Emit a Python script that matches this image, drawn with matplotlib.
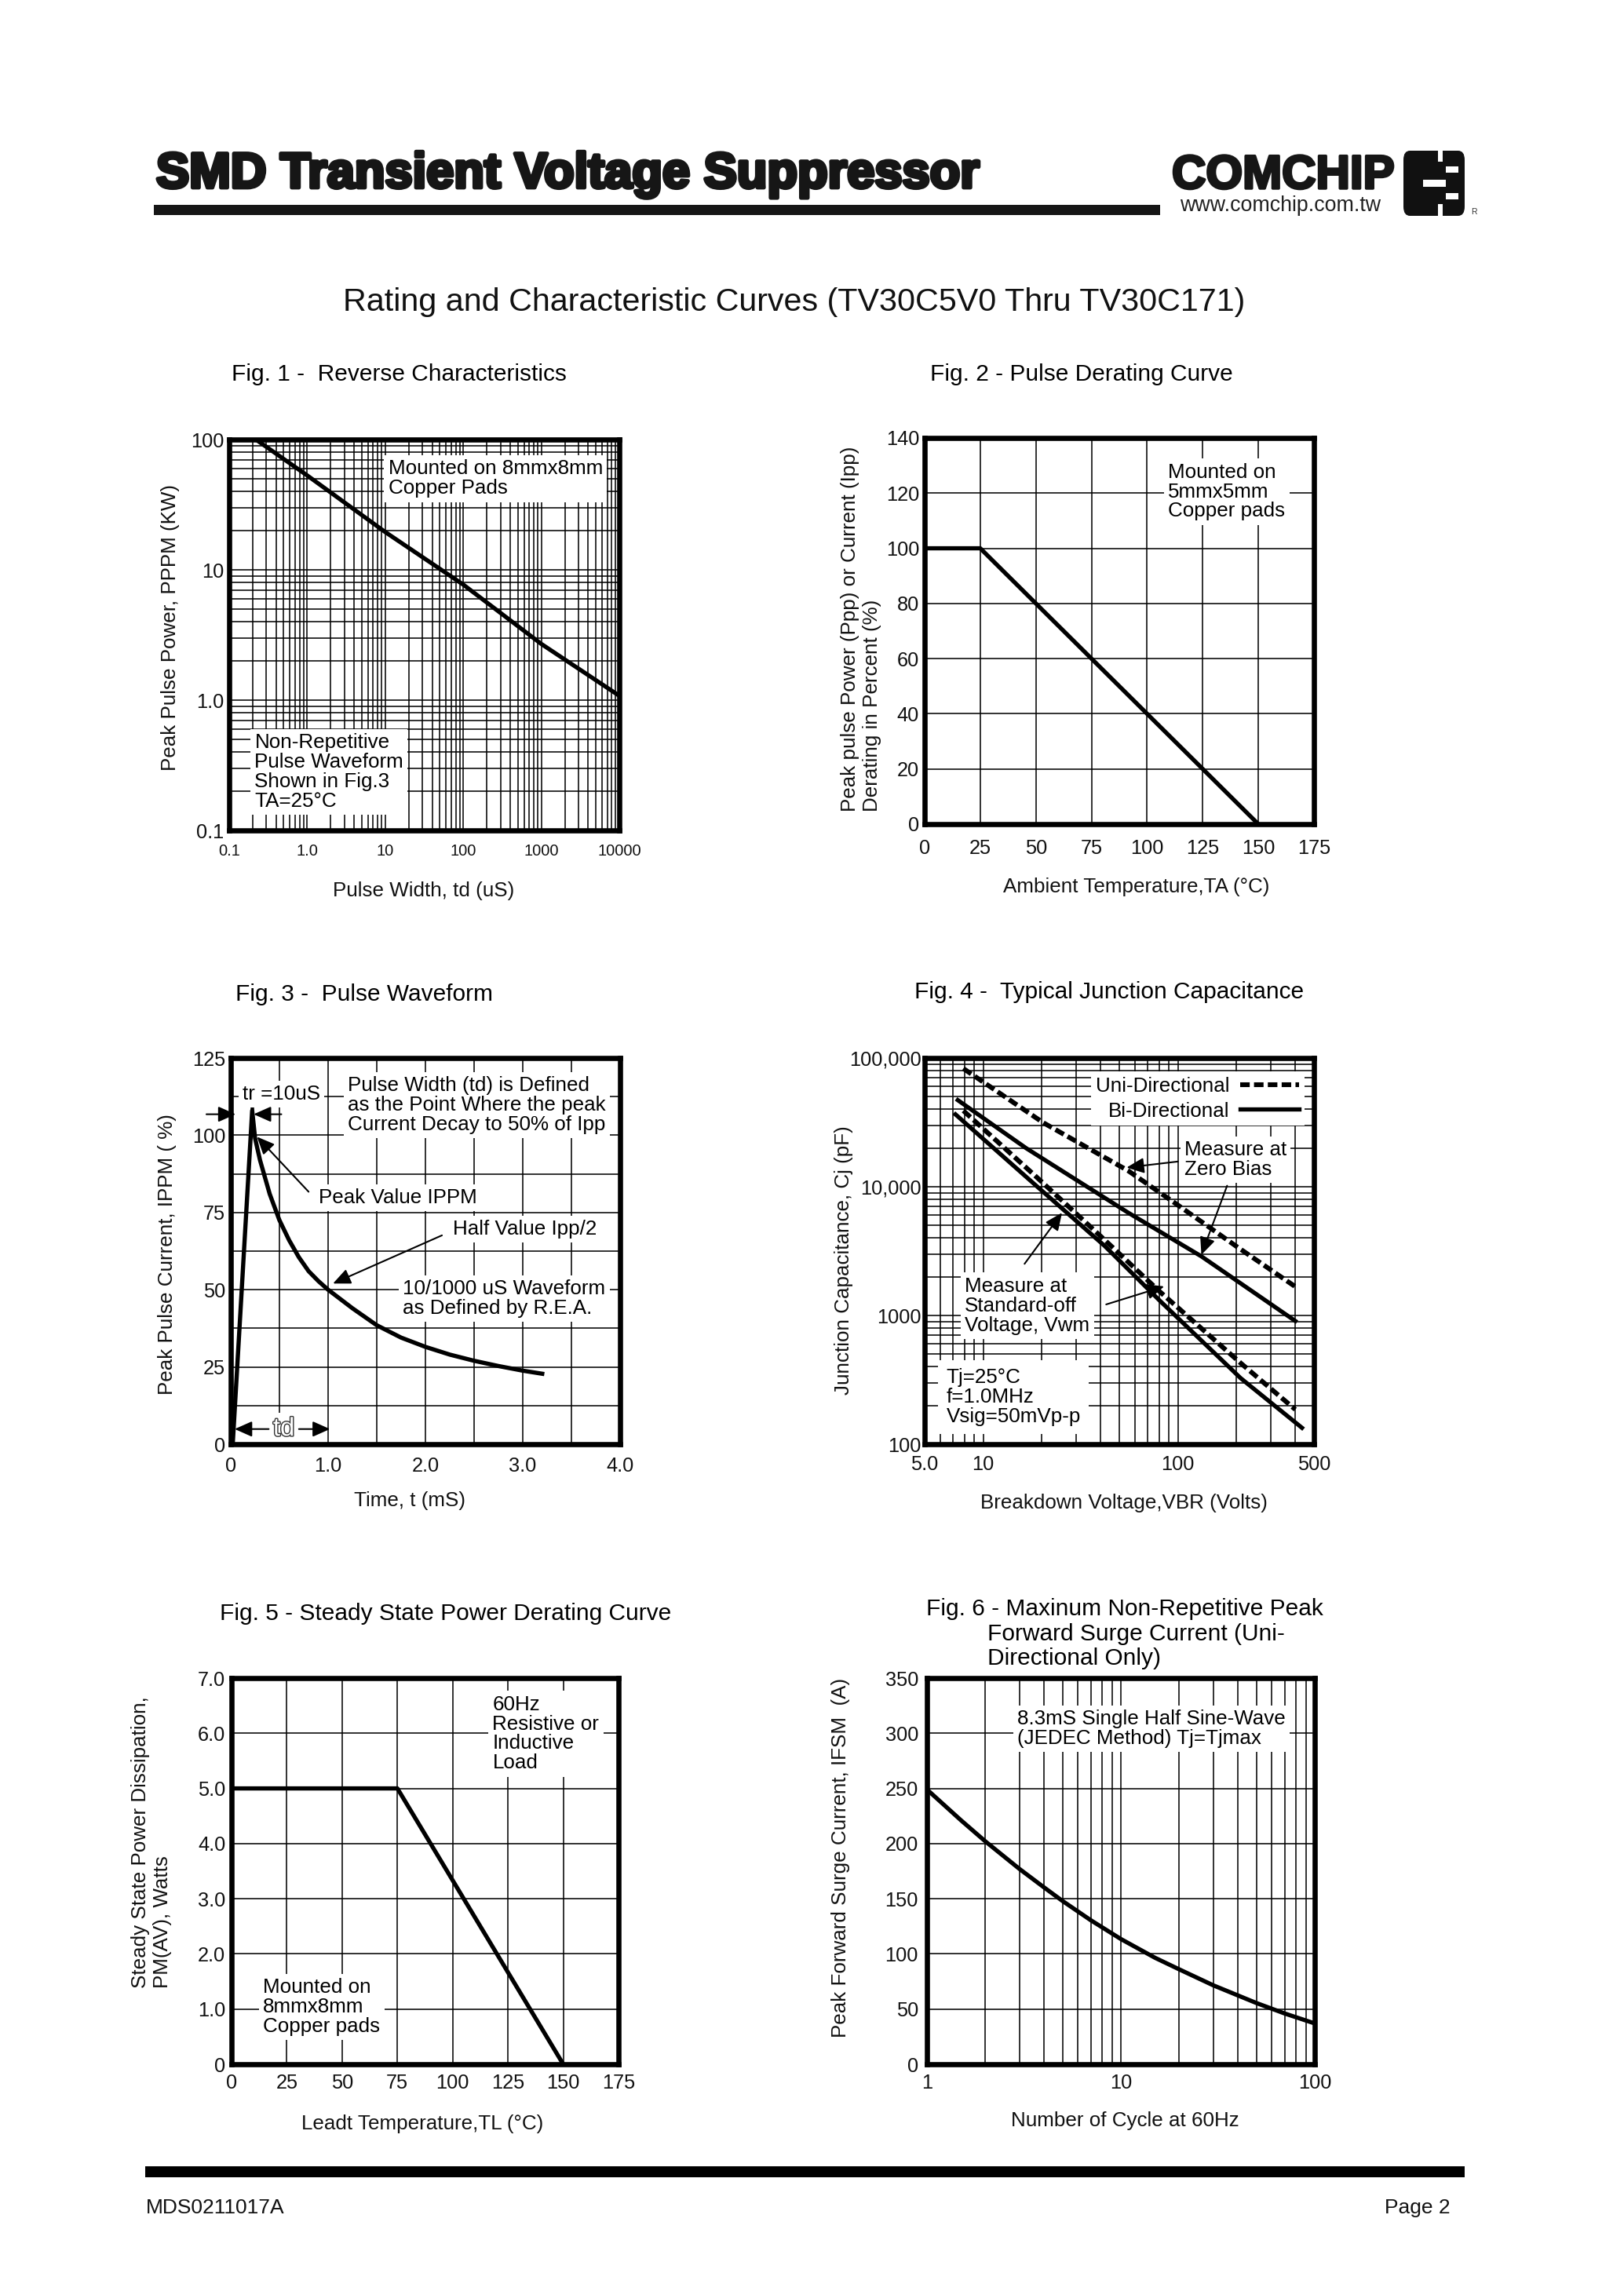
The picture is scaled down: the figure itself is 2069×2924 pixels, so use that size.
import matplotlib
matplotlib.use("Agg")
import matplotlib.pyplot as plt
from matplotlib import patheffects as pe
from matplotlib.patches import Rectangle, FancyBboxPatch

# ---------------- data ----------------
fig1_width_us = [0.22, 1, 10, 100, 1000, 10000]
fig1_power_kw = [100, 53, 19.5, 7.7, 2.7, 1.08]

fig2_temp_c = [0, 25, 150]
fig2_derating_pct = [100, 100, 0]

fig3_time_ms = [0.02, 0.22, 0.25, 0.3, 0.35, 0.4, 0.5, 0.6, 0.7, 0.8, 0.9, 1.0,
                1.25, 1.5, 1.75, 2.0, 2.25, 2.5, 2.75, 3.0, 3.2]
fig3_current_pct = [0, 108, 99, 92, 86.5, 81, 72.5, 66, 60.5, 56, 52.8, 50,
                    44, 38.5, 34.5, 31.5, 29, 27, 25.3, 23.8, 22.8]

fig4_uni_zero_v = [7.9, 20.3, 55.6, 97.7, 198, 409]
fig4_uni_zero_pf = [82900, 31500, 13300, 7380, 3475, 1640]
fig4_bi_zero_v = [7.4, 16.6, 55.6, 132, 401]
fig4_bi_zero_pf = [47100, 19950, 6280, 2880, 906]
fig4_uni_vwm_v = [7.9, 18.7, 42, 80, 210, 401]
fig4_uni_vwm_pf = [39000, 11970, 3870, 1550, 427, 186]
fig4_bi_vwm_v = [7.2, 18.7, 42, 80, 210, 434]
fig4_bi_vwm_pf = [36500, 10190, 3475, 1320, 326, 134]

fig5_temp_c = [0, 75, 150]
fig5_power_w = [5.0, 5.0, 0]

fig6_cycles = [1, 1.5, 2, 3, 4, 5, 7, 10, 15, 20, 30, 50, 70, 100]
fig6_ifsm_a = [249, 221, 202, 177, 160.5, 148, 130.5, 113.5, 96.5, 86, 71.5, 55.5, 46, 37]

# tick labels
fig1_xticks = [0.1, 1, 10, 100, 1000, 10000]
fig1_xlabels = ["0.1", "1.0", "10", "100", "1000", "10000"]
fig1_yticks = [0.1, 1, 10, 100]
fig1_ylabels = ["0.1", "1.0", "10", "100"]
fig2_xticks = [0, 25, 50, 75, 100, 125, 150, 175]
fig2_yticks = [0, 20, 40, 60, 80, 100, 120, 140]
fig3_xticks = [0, 1, 2, 3, 4]
fig3_xlabels = ["0", "1.0", "2.0", "3.0", "4.0"]
fig3_yticks = [0, 25, 50, 75, 100, 125]
fig4_xticks = [5, 10, 100, 500]
fig4_xlabels = ["5.0", "10", "100", "500"]
fig4_yticks = [100, 1000, 10000, 100000]
fig4_ylabels = ["100", "1000", "10,000", "100,000"]
fig5_xticks = [0, 25, 50, 75, 100, 125, 150, 175]
fig5_yticks = [0, 1, 2, 3, 4, 5, 6, 7]
fig5_ylabels = ["0", "1.0", "2.0", "3.0", "4.0", "5.0", "6.0", "7.0"]
fig6_xticks = [1, 10, 100]
fig6_xlabels = ["1", "10", "100"]
fig6_yticks = [0, 50, 100, 150, 200, 250, 300, 350]

# ---------------- figure ----------------
W, H = 2069, 2924
DPI = 250
SANS = ["Liberation Sans", "DejaVu Sans"]
plt.rcParams["font.family"] = SANS
plt.rcParams["axes.linewidth"] = 1.9

fig = plt.figure(figsize=(W / DPI, H / DPI), dpi=DPI)
fig.patch.set_facecolor("white")

def fx(x):
    return x / W

def fy(y):
    return 1 - y / H

def ftext(x, y, s, **kw):
    return fig.text(fx(x), fy(y), s, **kw)

LW = 1.55
GRID = dict(color="black", linewidth=0.45)
BOX = dict(facecolor="white", edgecolor="none", pad=1.5)
TXT = 7.5      # annotation font size
TICK = 7.3     # tick label size
ALAB = 7.5     # axis label size

def make_axes(x0, y0, x1, y1, xpad, ypad):
    ax = fig.add_axes([fx(x0), fy(y1), (x1 - x0) / W, (y1 - y0) / H])
    ax.set_axisbelow(True)
    ax.tick_params(which="both", length=0, labelsize=TICK, colors="#111111")
    ax.tick_params(axis="x", pad=xpad)
    ax.tick_params(axis="y", pad=ypad)
    for s in ax.spines.values():
        s.set_linewidth(1.9)
        s.set_zorder(5)
    return ax

def place_xlabel(ax, text, x, y):
    ax.set_xlabel(text, fontsize=ALAB, color="#111111")
    ax.xaxis.set_label_coords(fx(x), fy(y), transform=fig.transFigure)
    ax.xaxis.label.set_verticalalignment("center")

def place_ylabel(ax, text, x, y):
    ax.set_ylabel(text, fontsize=ALAB, color="#111111", multialignment="left")
    ax.yaxis.set_label_coords(fx(x), fy(y), transform=fig.transFigure)
    ax.yaxis.label.set_verticalalignment("center")
    ax.yaxis.label.set_horizontalalignment("center")

def arrow(ax, tip, start, lw=0.6):
    ax.annotate("", xy=tip, xytext=start,
                arrowprops=dict(arrowstyle="-|>,head_length=0.45,head_width=0.2",
                                color="black", lw=lw, mutation_scale=12,
                                shrinkA=0, shrinkB=0), zorder=6)

# ---------------- header ----------------
ftext(199, 239, "SMD Transient Voltage Suppressor", fontsize=18.2, fontweight="bold",
      color="#161616", va="baseline", ha="left",
      path_effects=[pe.withStroke(linewidth=1.4, foreground="#161616")])
fig.add_artist(Rectangle((fx(196), fy(274)), (1478 - 196) / W, 13 / H,
                         transform=fig.transFigure, facecolor="#161616", edgecolor="none"))
ftext(1493, 240, "COMCHIP", fontsize=17.3, fontweight="bold",
      color="#161616", va="baseline", ha="left",
      path_effects=[pe.withStroke(linewidth=1.0, foreground="#161616")])
ftext(1503, 262, "www.comchip.com.tw", fontsize=7.7, color="#222222",
      va="center", ha="left")
# logo block
fig.add_artist(FancyBboxPatch((fx(1788), fy(275)), (1866 - 1788) / W, (275 - 192) / H,
                              boxstyle="round,pad=0,rounding_size=0.004",
                              transform=fig.transFigure, facecolor="#111111", edgecolor="none"))
for (x0, y0, x1, y1) in [(1832, 190, 1838, 206), (1813, 229, 1842, 238),
                         (1842, 212, 1858, 220), (1842, 246, 1858, 254),
                         (1832, 260, 1838, 278)]:
    fig.add_artist(Rectangle((fx(x0), fy(y1)), (x1 - x0) / W, (y1 - y0) / H,
                             transform=fig.transFigure, facecolor="white", edgecolor="none"))
ftext(1874, 270, "R", fontsize=3, color="#333333", va="center")

# main title
ftext(1012, 385, "Rating and Characteristic Curves (TV30C5V0 Thru TV30C171)",
      fontsize=11.9, color="#111111", ha="center", va="center")

TITLE_FS = 8.6
# ---------------- Fig 1 ----------------
ftext(295, 477, "Fig. 1 -  Reverse Characteristics", fontsize=TITLE_FS, va="center")
ax1 = make_axes(292, 560, 789, 1058, xpad=5.0, ypad=2.0)
ax1.set_xscale("log")
ax1.set_yscale("log")
ax1.set_xlim(0.1, 10000)
ax1.set_ylim(0.1, 100)
ax1.set_xticks(fig1_xticks)
ax1.set_xticklabels(fig1_xlabels, fontsize=5.8)
ax1.set_yticks(fig1_yticks)
ax1.set_yticklabels(fig1_ylabels)
ax1.set_xticks([m * 10 ** e for e in range(-1, 4) for m in range(2, 10)], minor=True)
ax1.set_yticks([m * 10 ** e for e in range(-1, 2) for m in range(2, 10)], minor=True)
ax1.tick_params(which="minor", labelbottom=False, labelleft=False)
ax1.grid(True, which="both", **GRID)
ax1.plot(fig1_width_us, fig1_power_kw, color="black", lw=LW, zorder=3)
ax1.text(10.9, 50, "Mounted on 8mmx8mm\nCopper Pads", fontsize=TXT, va="center",
         linespacing=1.05, bbox=BOX, zorder=4)
ax1.text(0.212, 0.28, "Non-Repetitive\nPulse Waveform\nShown in Fig.3\nTA=25°C", fontsize=TXT,
         va="center", linespacing=1.05, bbox=BOX, zorder=4)
place_xlabel(ax1, "Pulse Width, td (uS)", 540, 1135)
place_ylabel(ax1, "Peak Pulse Power, PPPM (KW)", 217, 800)

# ---------------- Fig 2 ----------------
ftext(1185, 477, "Fig. 2 - Pulse Derating Curve", fontsize=TITLE_FS, va="center")
ax2 = make_axes(1178, 558, 1674, 1050, xpad=5.5, ypad=2.0)
ax2.set_xlim(0, 175)
ax2.set_ylim(0, 140)
ax2.set_xticks(fig2_xticks)
ax2.set_yticks(fig2_yticks)
ax2.grid(True, **GRID)
ax2.plot(fig2_temp_c, fig2_derating_pct, color="black", lw=LW, zorder=3)
ax2.text(109.5, 120.5, "Mounted on\n5mmx5mm\nCopper pads", fontsize=TXT, va="center",
         linespacing=1.05, bbox=BOX, zorder=4)
place_xlabel(ax2, "Ambient Temperature,TA (°C)", 1448, 1130)
place_ylabel(ax2, "Peak pulse Power (Ppp) or Current (Ipp)\nDerating in Percent (%)", 1097, 801)

# ---------------- Fig 3 ----------------
ftext(300, 1267, "Fig. 3 -  Pulse Waveform", fontsize=TITLE_FS, va="center")
ax3 = make_axes(294, 1348, 790, 1840, xpad=4.6, ypad=2.0)
ax3.set_xlim(0, 4)
ax3.set_ylim(0, 125)
ax3.set_xticks(fig3_xticks)
ax3.set_xticklabels(fig3_xlabels)
ax3.set_yticks(fig3_yticks)
ax3.set_xticks([0.5, 1.5, 2.5, 3.5], minor=True)
ax3.set_yticks([12.5, 37.5, 62.5, 87.5, 112.5], minor=True)
ax3.grid(True, which="both", **GRID)
ax3.plot(fig3_time_ms, fig3_current_pct, color="black", lw=LW, zorder=3)
# tr marker
ax3.plot([0.22, 0.22], [104, 111], color="black", lw=1.3, zorder=3)
arrow(ax3, (0.05, 106.8), (-0.25, 106.8))
arrow(ax3, (0.235, 106.8), (0.52, 106.8))
ax3.text(0.12, 113.3, "tr =10uS", fontsize=TXT, va="center", bbox=BOX, zorder=4)
ax3.text(1.2, 109.8, "Pulse Width (td) is Defined\nas the Point Where the peak\nCurrent Decay to 50% of Ipp",
         fontsize=TXT, va="center", linespacing=1.05, bbox=BOX, zorder=4)
ax3.text(0.9, 79.8, "Peak Value IPPM", fontsize=TXT, va="center", bbox=BOX, zorder=4)
arrow(ax3, (0.27, 99.5), (0.8, 81.7))
ax3.text(2.28, 69.6, "Half Value Ipp/2", fontsize=TXT, va="center", bbox=BOX, zorder=4)
arrow(ax3, (1.05, 52.0), (2.17, 67.6))
ax3.text(1.77, 47.2, "10/1000 uS Waveform\nas Defined by R.E.A.", fontsize=TXT, va="center",
         linespacing=1.05, bbox=BOX, zorder=4)
ax3.text(0.545, 4.9, "td", fontsize=9.5, color="white", ha="center", va="center",
         bbox=BOX, zorder=4,
         path_effects=[pe.withStroke(linewidth=0.8, foreground="#333333")])
arrow(ax3, (0.04, 4.9), (0.39, 4.9))
arrow(ax3, (1.02, 4.9), (0.70, 4.9))
place_xlabel(ax3, "Time, t (mS)", 522, 1912)
place_ylabel(ax3, "Peak Pulse Current, IPPM ( %)", 213, 1598)

# ---------------- Fig 4 ----------------
ftext(1165, 1264, "Fig. 4 -  Typical Junction Capacitance", fontsize=TITLE_FS, va="center")
ax4 = make_axes(1178, 1348, 1674, 1840, xpad=4.0, ypad=1.3)
ax4.set_xscale("log")
ax4.set_yscale("log")
ax4.set_xlim(5, 500)
ax4.set_ylim(100, 100000)
ax4.set_xticks(fig4_xticks)
ax4.set_xticklabels(fig4_xlabels)
ax4.set_yticks(fig4_yticks)
ax4.set_yticklabels(fig4_ylabels)
ax4.set_xticks([6, 7, 8, 9, 20, 30, 40, 50, 60, 70, 80, 90, 200, 300, 400], minor=True)
ax4.set_yticks([m * 10 ** e for e in range(2, 5) for m in range(2, 10)], minor=True)
ax4.tick_params(which="minor", labelbottom=False, labelleft=False)
ax4.grid(True, which="both", **GRID)
DASH = (2.0, 0.9)
l_uni, = ax4.plot(fig4_uni_zero_v, fig4_uni_zero_pf, color="black", lw=LW + 0.2, dashes=DASH, zorder=3)
ax4.plot(fig4_uni_vwm_v, fig4_uni_vwm_pf, color="black", lw=LW + 0.2, dashes=DASH, zorder=3)
l_bi, = ax4.plot(fig4_bi_zero_v, fig4_bi_zero_pf, color="black", lw=LW, zorder=3)
ax4.plot(fig4_bi_vwm_v, fig4_bi_vwm_pf, color="black", lw=LW, zorder=3)
leg = ax4.legend([l_uni, l_bi], ["Uni-Directional", "Bi-Directional"], markerfirst=False,
                 loc="upper right", bbox_to_anchor=(0.975, 0.965), fontsize=TXT, frameon=True,
                 fancybox=False, framealpha=1, edgecolor="none", facecolor="white",
                 handlelength=2.9, handletextpad=0.5, labelspacing=0.3, borderpad=0.25,
                 borderaxespad=0)
leg.set_zorder(4)
ax4.text(108, 16200, "Measure at\nZero Bias", fontsize=TXT, va="center", linespacing=1.05,
         bbox=BOX, zorder=4)
arrow(ax4, (54.5, 14100), (100, 15700))
arrow(ax4, (132, 2960), (179, 10190))
ax4.text(8.05, 1190, "Measure at\nStandard-off\nVoltage, Vwm", fontsize=TXT, va="center",
         linespacing=1.05, bbox=BOX, zorder=4)
arrow(ax4, (25.4, 6280), (16.3, 2518))
arrow(ax4, (85, 1682), (42.8, 1218))
ax4.text(6.45, 232, "Tj=25°C\nf=1.0MHz\nVsig=50mVp-p", fontsize=TXT, va="center",
         linespacing=1.05, bbox=dict(facecolor="white", edgecolor="none", pad=3), zorder=4)
place_xlabel(ax4, "Breakdown Voltage,VBR (Volts)", 1432, 1915)
place_ylabel(ax4, "Junction Capacitance, Cj (pF)", 1075, 1606)

# ---------------- Fig 5 ----------------
ftext(280, 2056, "Fig. 5 - Steady State Power Derating Curve", fontsize=TITLE_FS, va="center")
ax5 = make_axes(295, 2138, 788, 2630, xpad=3.4, ypad=2.2)
ax5.set_xlim(0, 175)
ax5.set_ylim(0, 7)
ax5.set_xticks(fig5_xticks)
ax5.set_yticks(fig5_yticks)
ax5.set_yticklabels(fig5_ylabels)
ax5.grid(True, **GRID)
ax5.plot(fig5_temp_c, fig5_power_w, color="black", lw=LW, zorder=3)
ax5.text(118, 5.99, "60Hz\nResistive or\nInductive\nLoad", fontsize=TXT, va="center",
         linespacing=1.05, bbox=BOX, zorder=4)
ax5.text(14.3, 1.04, "Mounted on\n8mmx8mm\nCopper pads", fontsize=TXT, va="center",
         linespacing=1.05, bbox=BOX, zorder=4)
place_xlabel(ax5, "Leadt Temperature,TL (°C)", 538, 2706)
place_ylabel(ax5, "Steady State Power Dissipation,\nPM(AV), Watts", 193, 2347)

# ---------------- Fig 6 ----------------
ftext(1180, 2050, "Fig. 6 - Maxinum Non-Repetitive Peak", fontsize=TITLE_FS, va="center")
ftext(1258, 2082, "Forward Surge Current (Uni-", fontsize=TITLE_FS, va="center")
ftext(1258, 2113, "Directional Only)", fontsize=TITLE_FS, va="center")
ax6 = make_axes(1181, 2138, 1675, 2630, xpad=3.4, ypad=3.2)
ax6.set_xscale("log")
ax6.set_xlim(1, 100)
ax6.set_ylim(0, 350)
ax6.set_xticks(fig6_xticks)
ax6.set_xticklabels(fig6_xlabels)
ax6.set_yticks(fig6_yticks)
ax6.set_xticks([m * 10 ** e for e in range(0, 2) for m in range(2, 10)], minor=True)
ax6.tick_params(which="minor", labelbottom=False)
ax6.grid(True, which="both", **GRID)
ax6.plot(fig6_cycles, fig6_ifsm_a, color="black", lw=LW, zorder=3)
ax6.text(2.92, 304, "8.3mS Single Half Sine-Wave\n(JEDEC Method) Tj=Tjmax", fontsize=TXT,
         va="center", linespacing=1.05, bbox=BOX, zorder=4)
place_xlabel(ax6, "Number of Cycle at 60Hz", 1433, 2702)
place_ylabel(ax6, "Peak Forward Surge Current, IFSM  (A)", 1071, 2367)

# ---------------- footer ----------------
fig.add_artist(Rectangle((fx(185), fy(2774)), (1866 - 185) / W, 14 / H,
                         transform=fig.transFigure, facecolor="black", edgecolor="none"))
ftext(186, 2813, "MDS0211017A", fontsize=7.6, color="#111111", va="center")
ftext(1848, 2813, "Page 2", fontsize=7.6, color="#111111", va="center", ha="right")

fig.savefig("out.png", dpi=DPI, facecolor="white")
